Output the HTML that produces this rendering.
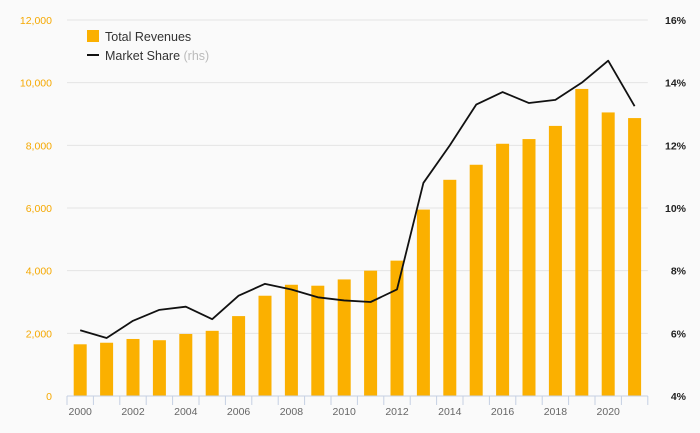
<!DOCTYPE html>
<html><head><meta charset="utf-8"><style>
body{margin:0;background:#fafafa;font-family:"Liberation Sans",sans-serif}
</style></head><body>
<svg id="c" width="700" height="433" style="display:block">
<rect width="700" height="433" fill="#fafafa"/>
<g id="grid"></g><g id="bars"></g><g id="axes"></g><g id="line"></g>
<g>
<rect x="87" y="30" width="12" height="12" fill="#fbb000"/>
<text x="105" y="41" font-size="12.5" fill="#333">Total Revenues</text>
<line x1="87" y1="55" x2="99" y2="55" stroke="#111" stroke-width="2"/>
<text x="105" y="60" font-size="12.5" fill="#333">Market Share <tspan fill="#bbb">(rhs)</tspan></text>
</g>
</svg>
<script>
const years=[2000,2001,2002,2003,2004,2005,2006,2007,2008,2009,2010,2011,2012,2013,2014,2015,2016,2017,2018,2019,2020,2021];
const revenues=[1650,1700,1820,1780,1980,2080,2550,3200,3550,3520,3720,4000,4320,5950,6900,7380,8050,8200,8620,9800,9050,8870];
const share=[6.1,5.85,6.4,6.75,6.85,6.45,7.2,7.58,7.4,7.15,7.05,7.0,7.4,10.8,12.0,13.3,13.7,13.35,13.45,14.0,14.7,13.25];
const leftTicks=[0,2000,4000,6000,8000,10000,12000];
const rightTicks=[4,6,8,10,12,14,16];
const NS="http://www.w3.org/2000/svg";
const x0=67,band=26.4,yB=396,yT=20;
const xc=i=>x0+band*(i+0.5);
const yL=v=>yB-(v/12000)*(yB-yT);
const yR=v=>yB-((v-4)/12)*(yB-yT);
function mk(t,a,p){const e=document.createElementNS(NS,t);for(const k in a)e.setAttribute(k,a[k]);p.appendChild(e);return e;}
const G=document.getElementById('grid'),B=document.getElementById('bars'),A=document.getElementById('axes'),L=document.getElementById('line');
const xR=x0+band*years.length;
leftTicks.forEach((t,i)=>{
 if(t>0){const g=mk('line',{x1:x0,x2:xR,y1:yL(t),y2:yL(t),stroke:'#e4e4e4'},G);
 
 }
 const tx=mk('text',{x:52,y:yL(t)+4,'font-size':10.5,fill:'#f5a800','text-anchor':'end'},A);tx.textContent=t.toLocaleString('en-US');
 
 
});
rightTicks.forEach(t=>{
 const tx=mk('text',{x:686,y:yR(t)+4,'font-size':10.5,fill:'#222','text-anchor':'end','font-weight':'bold'},A);tx.textContent=t+'%';
 
 
});
revenues.forEach((v,i)=>{
 const r=mk('rect',{x:xc(i)-6.5,y:yL(v),width:13,height:yB-yL(v),fill:'#fbb000'},B);
 
 
});
const ax=mk('line',{x1:x0,x2:xR,y1:yB,y2:yB,stroke:'#c5d0e3'},A);


for(let i=0;i<=years.length;i++){const tk=mk('line',{x1:x0+band*i,x2:x0+band*i,y1:yB,y2:yB+9,stroke:'#c5d0e3'},A);
 
 }
years.forEach((y,i)=>{if(i%2)return;
 const tx=mk('text',{x:xc(i),y:415,'font-size':10.5,fill:'#666','text-anchor':'middle'},A);tx.textContent=y;
 
 
});
const p=mk('polyline',{points:share.map((v,i)=>xc(i)+','+yR(v)).join(' '),fill:'none',stroke:'#111','stroke-width':1.8,'stroke-linejoin':'round'},L);


</script>
</body></html>
